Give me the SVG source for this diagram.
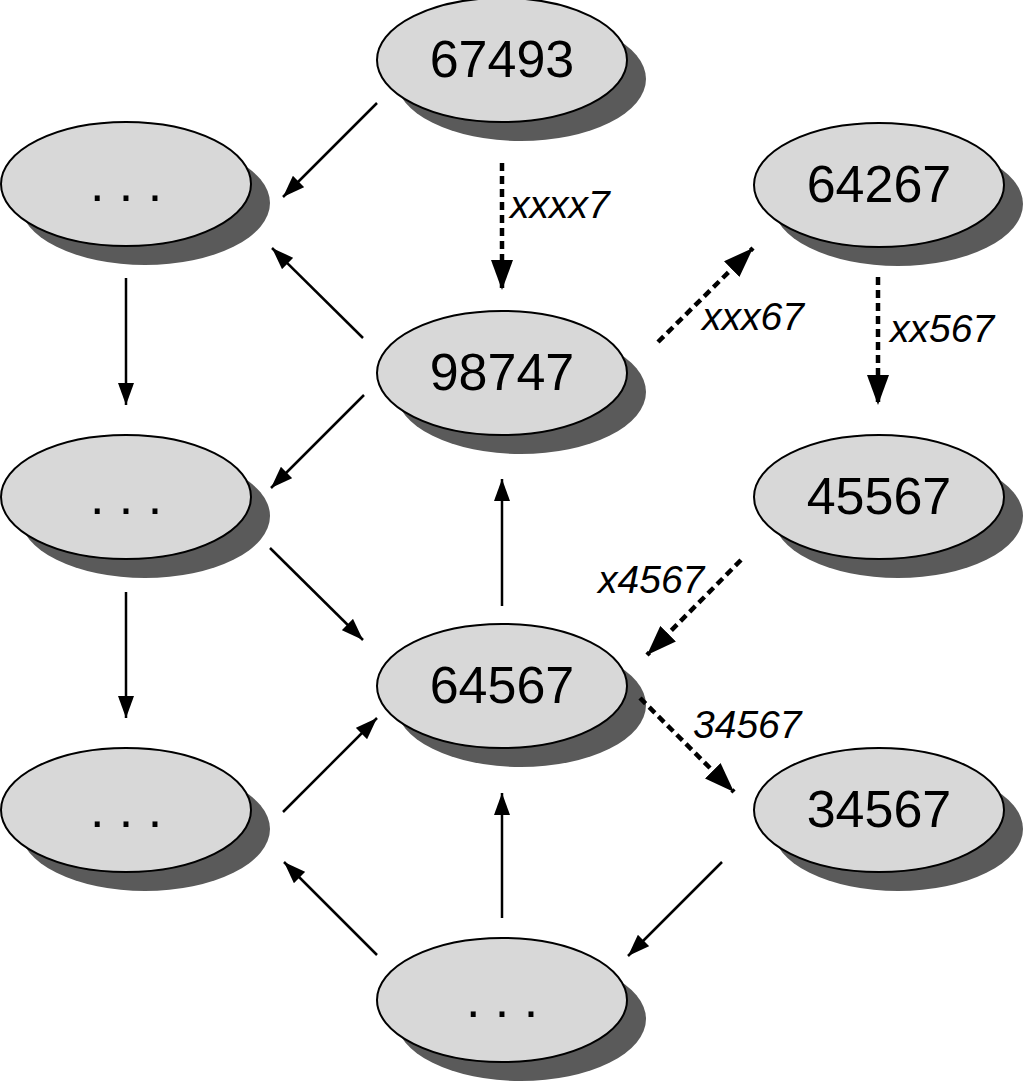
<svg xmlns="http://www.w3.org/2000/svg" width="1024" height="1083" viewBox="0 0 1024 1083">
<style>
.sh{fill:#5a5a5a;stroke:none}
.el{fill:#d8d8d8;stroke:#000;stroke-width:2}
.t{font-family:"Liberation Sans",Arial,sans-serif;font-size:52px;text-anchor:middle;fill:#000}
.lbl{font-family:"Liberation Sans",Arial,sans-serif;font-size:39px;font-style:italic;fill:#000}
.s{stroke:#000;stroke-width:2.5;fill:none;marker-end:url(#a)}
.d{stroke:#000;stroke-width:4.5;fill:none;stroke-dasharray:8 5;marker-end:url(#ad)}
</style>
<defs>
<marker id="a" markerUnits="userSpaceOnUse" markerWidth="24" markerHeight="16" refX="22" refY="8" orient="auto">
<path d="M0,0 L22,8 L0,16 Z" fill="#000"/>
</marker>
<marker id="ad" markerUnits="userSpaceOnUse" markerWidth="32" markerHeight="22" refX="30" refY="11" orient="auto">
<path d="M0,0 L30,11 L0,22 Z" fill="#000"/>
</marker>
</defs>
<rect width="1024" height="1083" fill="#fff"/>
<g id="n67493"><ellipse class="sh" cx="521" cy="79" rx="125" ry="62"/><ellipse class="el" cx="502" cy="60" rx="125" ry="62"/><text class="t" x="502" y="77">67493</text></g>
<g id="nTL"><ellipse class="sh" cx="145" cy="203" rx="125" ry="62"/><ellipse class="el" cx="126" cy="184" rx="125" ry="62"/><text class="t" x="126" y="201">. . .</text></g>
<g id="n64267"><ellipse class="sh" cx="898" cy="204" rx="125" ry="62"/><ellipse class="el" cx="879" cy="185" rx="125" ry="62"/><text class="t" x="879" y="202">64267</text></g>
<g id="n98747"><ellipse class="sh" cx="521" cy="392" rx="125" ry="62"/><ellipse class="el" cx="502" cy="373" rx="125" ry="62"/><text class="t" x="502" y="390">98747</text></g>
<g id="nML"><ellipse class="sh" cx="145" cy="516" rx="125" ry="62"/><ellipse class="el" cx="126" cy="497" rx="125" ry="62"/><text class="t" x="126" y="514">. . .</text></g>
<g id="n45567"><ellipse class="sh" cx="898" cy="516" rx="125" ry="62"/><ellipse class="el" cx="879" cy="497" rx="125" ry="62"/><text class="t" x="879" y="514">45567</text></g>
<g id="n64567"><ellipse class="sh" cx="521" cy="705" rx="125" ry="62"/><ellipse class="el" cx="502" cy="686" rx="125" ry="62"/><text class="t" x="502" y="703">64567</text></g>
<g id="nBL"><ellipse class="sh" cx="145" cy="829" rx="125" ry="62"/><ellipse class="el" cx="126" cy="810" rx="125" ry="62"/><text class="t" x="126" y="827">. . .</text></g>
<g id="n34567"><ellipse class="sh" cx="898" cy="829" rx="125" ry="62"/><ellipse class="el" cx="879" cy="810" rx="125" ry="62"/><text class="t" x="879" y="827">34567</text></g>
<g id="nB"><ellipse class="sh" cx="521" cy="1019" rx="125" ry="62"/><ellipse class="el" cx="502" cy="1000" rx="125" ry="62"/><text class="t" x="502" y="1017">. . .</text></g>
<g id="connectors">
<line class="s" x1="377" y1="103" x2="283" y2="197"/>
<line class="s" x1="363" y1="338" x2="272" y2="248"/>
<line class="s" x1="126" y1="278" x2="126" y2="405"/>
<line class="s" x1="364" y1="395" x2="271" y2="488"/>
<line class="s" x1="270" y1="548" x2="363" y2="640"/>
<line class="s" x1="126" y1="592" x2="126" y2="718"/>
<line class="s" x1="502" y1="606" x2="502" y2="479"/>
<line class="s" x1="283" y1="812" x2="377" y2="718"/>
<line class="s" x1="377" y1="955" x2="284" y2="862"/>
<line class="s" x1="502" y1="918" x2="502" y2="793"/>
<line class="s" x1="722" y1="862" x2="628" y2="956"/>
<line class="d" x1="502" y1="163" x2="502" y2="290"/>
<line class="d" x1="658" y1="342" x2="753" y2="248"/>
<line class="d" x1="878" y1="277" x2="878" y2="405"/>
<line class="d" x1="741" y1="560" x2="647" y2="655"/>
<line class="d" x1="640" y1="698" x2="734" y2="792"/>
<text class="lbl" x="510" y="218">xxxx7</text>
<text class="lbl" x="702" y="330">xxx67</text>
<text class="lbl" x="890" y="342">xx567</text>
<text class="lbl" x="598" y="593">x4567</text>
<text class="lbl" x="693" y="738">34567</text>
</g>
</svg>
